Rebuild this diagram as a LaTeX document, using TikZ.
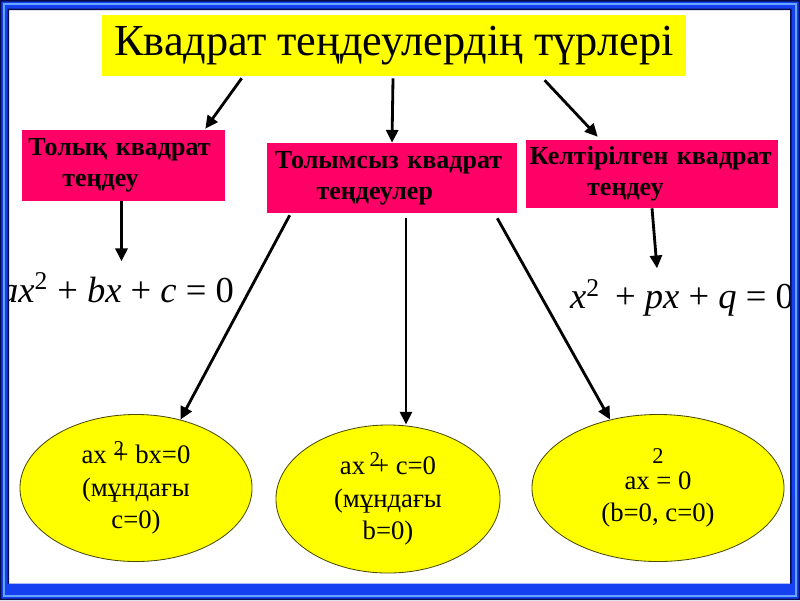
\documentclass[tikz,border=0pt]{standalone}
\usepackage{fontspec}
\setmainfont{Liberation Serif}
\usetikzlibrary{arrows.meta, positioning, calc, shapes.geometric}
\definecolor{TitleYellow}{rgb}{1, 1, 0}
\definecolor{BoxMagenta}{rgb}{1, 0, 0.4}
\definecolor{FrameBlue}{rgb}{0.08, 0.25, 0.95}
\definecolor{FrameLight}{rgb}{0.4, 0.65, 1}
\definecolor{FrameDark}{rgb}{0.02, 0.05, 0.3}

\begin{document}
\begin{tikzpicture}[
    x=0.025cm, y=-0.025cm,
    title/.style={fill=TitleYellow, inner sep=0pt,
        minimum width=14.6cm, minimum height=1.525cm,
        font=\fontsize{31.5}{36}\selectfont},
    kind/.style={fill=BoxMagenta, align=left, inner sep=0pt,
        font=\fontsize{18.5}{22}\selectfont\bfseries},
    formula/.style={font=\fontsize{26}{30}\selectfont, inner sep=2pt},
    case/.style={ellipse, draw=black!70!TitleYellow, line width=0.6pt,
        fill=TitleYellow, align=center, inner sep=0pt,
        font=\fontsize{19}{23}\selectfont},
    flow/.style={-{Triangle[length=0.32cm, width=0.3cm]}, line width=2pt, black},
]
\useasboundingbox (0,0) rectangle (800,600);
\fill[white] (0,0) rectangle (800,600);

% tақырып
\node[title] (head) at (394,45.5) {Квадрат теңдеулердің түрлері};

% үш түрі
\node[kind, minimum width=5.075cm, minimum height=1.775cm, text width=4.75cm]
    (full) at (123.5,165.5) {Толық квадрат\\\hspace*{1.3em}теңдеу};
\node[kind, minimum width=6.25cm, minimum height=1.75cm, text width=5.85cm]
    (part) at (392,178) {Толымсыз квадрат\\\hspace*{1.6em}теңдеулер};
\node[kind, minimum width=6.3cm, minimum height=1.7cm, text width=6.1cm]
    (given) at (652,174) {Келтірілген квадрат\\\hspace*{2.2em}теңдеу};
\draw[flow] ($(head.south west)+(140,2)$) -- ($(full.north east)+(-20,-1)$);
\draw[flow] ($(head.south)+(-1,2)$) -- (part.north);
\draw[flow] ($(head.south west)+(443,4)$) -- ($(given.north west)+(72,-3)$);

% формулалар
\node[formula] (f1) at (117,288)
    {\textit{ax}\textsuperscript{2} + \textit{bx} + \textit{c} = 0};
\node[formula] (f2) at (682,298)
    {\textit{x}\textsuperscript{2} \,+ \textit{px} + \textit{q} = 0};
\draw[flow] ($(full.south)+(-2,0)$) -- ($(full.south)+(-2,60)$);
\draw[flow] (given.south) -- ($(given.south)+(5,60)$);

% толымсыз теңдеулер
\node[case, minimum width=5.8cm, minimum height=3.675cm] (e1) at (136,488)
    {ax \rlap{\raisebox{.3em}{\fontsize{15}{15}\selectfont 2}}+ bx=0\\(мұндағы\\c=0)};
\node[case, minimum width=5.6cm, minimum height=3.7cm] (e2) at (388,499)
    {ax\,\rlap{\raisebox{.3em}{\fontsize{15}{15}\selectfont 2}}\,+ c=0\\(мұндағы\\b=0)};
\node[case, minimum width=6.3cm, minimum height=3.675cm] (e3) at (658,488)
    {{\fontsize{16}{16}\selectfont 2}\\[-5pt]ax = 0\\(b=0, c=0)};
\draw[flow] ($(part.south west)+(23,2)$) -- (e1.57);
\draw[flow] ($(part.south)+(14,5)$) -- ($(e2.north)+(18,0)$);
\draw[flow] ($(part.south east)+(-20,5)$) -- (e3.125);

% жиек
\fill[FrameDark, even odd rule] (0,0) rectangle (800,600) (9,10) rectangle (790,585);
\fill[FrameBlue, even odd rule] (1.5,1.5) rectangle (798.5,598.5) (7.5,8.5) rectangle (791.5,583.5);
\draw[FrameLight, line width=1.2pt] (4,4) rectangle (796,596);
\end{tikzpicture}
\end{document}
